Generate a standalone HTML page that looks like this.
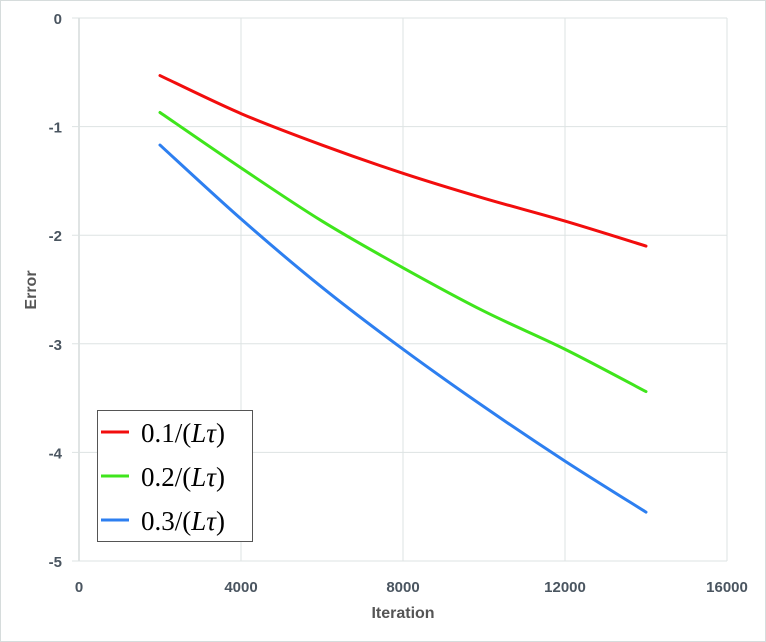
<!DOCTYPE html>
<html><head><meta charset="utf-8"><style>
body{margin:0;background:#fff}
svg{display:block;font-family:"Liberation Sans",sans-serif}
</style></head><body>
<svg width="766" height="642">
<rect x="0.5" y="0.5" width="765" height="641" fill="#fff" stroke="#d6dcdc"/>
<g id="grid"></g><g id="series"></g>
<text x="36" y="290" transform="rotate(-90 36 290)" text-anchor="middle" font-size="16" font-weight="bold" fill="#555">Error</text>
<text x="403" y="618" text-anchor="middle" font-size="16" font-weight="bold" fill="#555">Iteration</text>
<g>
<rect x="97.5" y="410.5" width="155" height="131" fill="#fff" stroke="#555"/>
<g id="legend"></g>
</g>
</svg>
<script>
const xTicks=[0,4000,8000,12000,16000];
const yTicks=[0,-1,-2,-3,-4,-5];
const iters=[2000,4000,6000,8000,10000,12000,14000];
const red=[-0.53,-0.88,-1.17,-1.43,-1.66,-1.87,-2.1];
const green=[-0.87,-1.38,-1.87,-2.3,-2.7,-3.05,-3.44];
const blue=[-1.17,-1.85,-2.48,-3.05,-3.58,-4.08,-4.55];
const labels=["0.1","0.2","0.3"];
const colors=["#f20d0d","#3fe51c","#2d7ff0"];
const NS="http://www.w3.org/2000/svg";
const X=v=>79+v*(648/16000), Y=v=>18-v*108.6;
const grid=document.getElementById('grid');
function mk(t,a,p){const e=document.createElementNS(NS,t);for(const k in a)e.setAttribute(k,a[k]);p.appendChild(e);return e;}
xTicks.forEach(t=>{
 const l=mk('line',{x1:X(t),x2:X(t),y1:Y(0),y2:Y(-5),stroke:t===0?'#c0c8c8':'#dde3e3'},grid);
 
 
 const tx=mk('text',{x:X(t),y:592,'text-anchor':'middle','font-size':15,'font-weight':'bold',fill:'#4a5560'},grid);
 tx.textContent=t;
 
 
});
yTicks.forEach(t=>{
 const l=mk('line',{x1:72,x2:727,y1:Y(t),y2:Y(t),stroke:'#dde3e3'},grid);
 
 
 const tx=mk('text',{x:62,y:Y(t)+6,'text-anchor':'end','font-size':15,'font-weight':'bold',fill:'#4a5560'},grid);
 tx.textContent=t;
 
 
});
function smooth(pts){
 let d='M'+pts[0][0]+','+pts[0][1];
 for(let i=0;i<pts.length-1;i++){
  const p0=pts[i-1]||pts[i],p1=pts[i],p2=pts[i+1],p3=pts[i+2]||p2;
  const c1=[p1[0]+(p2[0]-p0[0])/6,p1[1]+(p2[1]-p0[1])/6];
  const c2=[p2[0]-(p3[0]-p1[0])/6,p2[1]-(p3[1]-p1[1])/6];
  d+=' C'+c1+' '+c2+' '+p2;
 }
 return d;
}
const ser=document.getElementById('series');
[red,green,blue].forEach((s,i)=>{
 const p=mk('path',{d:smooth(s.map((v,j)=>[X(iters[j]),Y(v)])),fill:'none',stroke:colors[i],'stroke-width':3,'stroke-linecap':'round'},ser);
 
 
});
const lg=document.getElementById('legend');
labels.forEach((lab,i)=>{
 const y=432+i*44;
 const l=mk('line',{x1:101,x2:129,y1:y,y2:y,stroke:colors[i],'stroke-width':3},lg);
 
 
 const t=mk('text',{x:141,y:y+10,'font-size':27,'font-family':'"Liberation Serif",serif',fill:'#000'},lg);
 t.innerHTML=lab+'/(<tspan font-style="italic">L</tspan><tspan font-style="italic">τ</tspan>)';
 
 
});
</script>
</body></html>
